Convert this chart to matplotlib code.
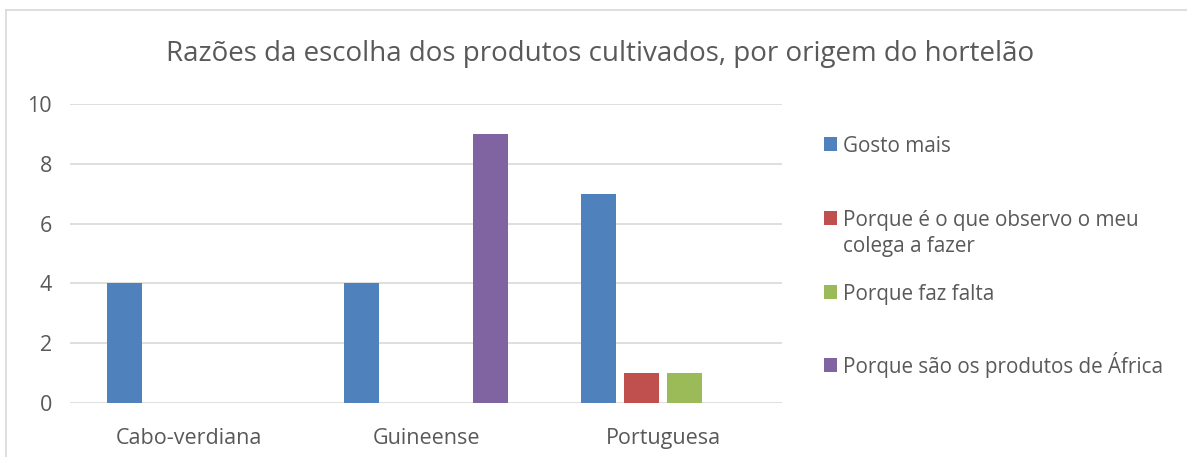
import matplotlib
matplotlib.use("Agg")
import matplotlib.pyplot as plt
from matplotlib.patches import Rectangle
from matplotlib.lines import Line2D
import numpy as np

title = "Razões da escolha dos produtos cultivados, por origem do hortelão"
categories = ["Cabo-verdiana", "Guineense", "Portuguesa"]
series_names = ["Gosto mais",
                "Porque é o que observo o meu\ncolega a fazer",
                "Porque faz falta",
                "Porque são os produtos de África"]
gosto_mais = [4, 4, 7]
observo_colega = [0, 0, 1]
faz_falta = [0, 0, 1]
produtos_africa = [0, 9, 0]
series_values = [gosto_mais, observo_colega, faz_falta, produtos_africa]
colors = ["#4F81BD", "#C0504D", "#9BBB59", "#8064A2"]
yticks = [0, 2, 4, 6, 8, 10]

plt.rcParams['font.family'] = ['Open Sans', 'DejaVu Sans']
TXT = "#595959"
W, H = 1187, 457
fig = plt.figure(figsize=(W/100, H/100), dpi=100)

# outer chart border (top and left visible)
fig.add_artist(Line2D([6/W, 6/W], [0, 1-10/H], color="#D9D9D9", lw=1.2, transform=fig.transFigure))
fig.add_artist(Line2D([6/W, 1], [1-10/H, 1-10/H], color="#D9D9D9", lw=1.2, transform=fig.transFigure))

ax = fig.add_axes([70/W, 1-403/H, (782-70)/W, (403-104)/H])
x = np.arange(len(categories))
step = 0.181
bw = 0.147
for i, (vals, c) in enumerate(zip(series_values, colors)):
    ax.bar(x + (i-1.5)*step, vals, width=bw, color=c, zorder=3)

ax.set_xlim(-0.5, len(categories)-0.5)
ax.set_ylim(0, 10)
ax.set_yticks(yticks)
ax.set_yticklabels([str(v) for v in yticks], fontsize=15.5, color=TXT)
ax.set_xticks(x)
ax.set_xticklabels(categories, fontsize=15.5, color=TXT)
ax.tick_params(axis='both', length=0)
ax.tick_params(axis='y', pad=13)
ax.tick_params(axis='x', pad=18)
ax.grid(axis='y', color="#D9D9D9", lw=1.2, zorder=0)
for s in ax.spines.values():
    s.set_visible(False)

fig.text(600/W, 1-61/H, title, fontsize=20, color=TXT, ha='center', va='baseline')

# legend
leg_y = [144, 218, 292, 365]
for name, c, yy in zip(series_names, colors, leg_y):
    fig.add_artist(Rectangle((824/W, 1-(yy+7)/H), 13/W, 14/H, color=c, lw=0, transform=fig.transFigure))
    lines = name.split("\n")
    for k, ln in enumerate(lines):
        fig.text(843/W, 1-(yy+8+26*k)/H, ln, fontsize=14.9, color=TXT, ha='left', va='baseline')

fig.savefig("out.png", dpi=100)
